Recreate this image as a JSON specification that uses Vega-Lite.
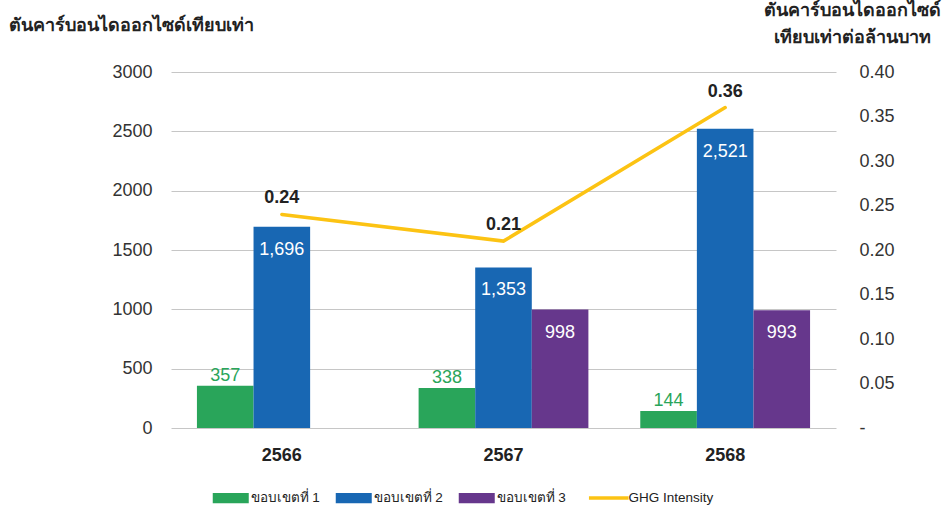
{
  "$schema": "https://vega.github.io/schema/vega-lite/v6.json",
  "width": 665,
  "height": 356,
  "autosize": {"type": "none"},
  "padding": {"left": 171, "top": 72, "right": 106, "bottom": 83},
  "background": "#ffffff",
  "config": {
    "view": {"stroke": null},
    "font": "Liberation Sans",
    "axis": {"labelFont": "Liberation Sans", "titleFont": "Liberation Sans"},
    "legend": {"labelFont": "Liberation Sans"}
  },
  "datasets": {
    "emissions": [
      {"year": "2566", "scope": "ขอบเขตที่ 1", "value": 357},
      {"year": "2566", "scope": "ขอบเขตที่ 2", "value": 1696},
      {"year": "2567", "scope": "ขอบเขตที่ 1", "value": 338},
      {"year": "2567", "scope": "ขอบเขตที่ 2", "value": 1353},
      {"year": "2567", "scope": "ขอบเขตที่ 3", "value": 998},
      {"year": "2568", "scope": "ขอบเขตที่ 1", "value": 144},
      {"year": "2568", "scope": "ขอบเขตที่ 2", "value": 2521},
      {"year": "2568", "scope": "ขอบเขตที่ 3", "value": 993}
    ],
    "intensity": [
      {"year": "2566", "series": "GHG Intensity", "intensity": 0.24},
      {"year": "2567", "series": "GHG Intensity", "intensity": 0.21},
      {"year": "2568", "series": "GHG Intensity", "intensity": 0.36}
    ]
  },
  "layer": [
    {
      "data": {"name": "emissions"},
      "encoding": {
        "x": {
          "field": "year", "type": "nominal", "sort": ["2566", "2567", "2568"],
          "scale": {"paddingInner": 0.234, "paddingOuter": 0.117},
          "axis": {
            "title": null, "domain": false, "ticks": false, "labelAngle": 0,
            "labelFontSize": 18, "labelFontWeight": "bold", "labelColor": "#222222",
            "labelPadding": 18
          }
        },
        "xOffset": {
          "field": "scope", "type": "nominal",
          "scale": {"domain": ["ขอบเขตที่ 1", "ขอบเขตที่ 2", "ขอบเขตที่ 3"], "paddingInner": 0, "paddingOuter": 0}
        },
        "y": {
          "field": "value", "type": "quantitative",
          "scale": {"domain": [0, 3000], "nice": false},
          "axis": {
            "orient": "left",
            "values": [0, 500, 1000, 1500, 2000, 2500, 3000],
            "format": "d",
            "domain": false, "ticks": false,
            "grid": true, "gridColor": "#c6c6c6", "gridWidth": 1,
            "labelFontSize": 18, "labelColor": "#333333", "labelPadding": 19,
            "title": "ตันคาร์บอนไดออกไซด์เทียบเท่า",
            "titleAngle": 0, "titleAlign": "left", "titleBaseline": "alphabetic",
            "titleX": -163, "titleY": -42,
            "titleFontSize": 18, "titleFontWeight": "bold", "titleColor": "#222222"
          }
        }
      },
      "layer": [
        {
          "mark": {"type": "bar"},
          "encoding": {
            "color": {
              "field": "scope", "type": "nominal",
              "scale": {
                "domain": ["ขอบเขตที่ 1", "ขอบเขตที่ 2", "ขอบเขตที่ 3", "GHG Intensity"],
                "range": ["#29a55a", "#1867b3", "#66378c", "#fcc313"]
              },
              "legend": {
                "orient": "none", "legendX": 53, "legendY": 419,
                "direction": "horizontal", "title": null,
                "symbolType": "M-1,-0.28L1,-0.28L1,0.28L-1,0.28Z",
                "symbolSize": 1296,
                "labelFontSize": 13.5, "labelColor": "#222222",
                "labelOffset": 13, "columnPadding": 15, "labelLimit": 200,
                "encode": {
                  "symbols": {
                    "update": {
                      "shape": {"signal": "datum.value === 'GHG Intensity' ? 'M-1.1,0L1.1,0' : 'M-1,-0.28L1,-0.28L1,0.28L-1,0.28Z'"},
                      "fill": {"signal": "datum.value === 'GHG Intensity' ? 'transparent' : scale('color', datum.value)"},
                      "stroke": {"signal": "scale('color', datum.value)"},
                      "strokeWidth": {"signal": "datum.value === 'GHG Intensity' ? 3.5 : 0"},
                      "opacity": {"value": 1}
                    }
                  }
                }
              }
            }
          }
        },
        {
          "transform": [{"filter": "datum.scope === 'ขอบเขตที่ 1'"}],
          "mark": {"type": "text", "baseline": "bottom", "dy": -1, "fontSize": 18, "color": "#29a55a"},
          "encoding": {"text": {"field": "value", "type": "quantitative", "format": ","}}
        },
        {
          "transform": [{"filter": "datum.scope !== 'ขอบเขตที่ 1'"}],
          "mark": {"type": "text", "baseline": "middle", "dy": 23, "fontSize": 18, "color": "#ffffff"},
          "encoding": {"text": {"field": "value", "type": "quantitative", "format": ","}}
        }
      ]
    },
    {
      "data": {"name": "intensity"},
      "encoding": {
        "x": {"field": "year", "type": "nominal", "sort": ["2566", "2567", "2568"]},
        "y": {
          "field": "intensity", "type": "quantitative",
          "scale": {"domain": [0, 0.4], "nice": false},
          "axis": {
            "orient": "right",
            "values": [0, 0.05, 0.1, 0.15, 0.2, 0.25, 0.3, 0.35, 0.4],
            "labelExpr": "datum.value === 0 ? '-' : format(datum.value, '.2f')",
            "domain": false, "ticks": false, "grid": false,
            "labelFontSize": 18, "labelColor": "#333333", "labelPadding": 23,
            "title": ["ตันคาร์บอนไดออกไซด์", "เทียบเท่าต่อล้านบาท"],
            "titleAngle": 0, "titleAlign": "center", "titleBaseline": "alphabetic",
            "titleX": 16, "titleY": -57, "titleLineHeight": 27,
            "titleFontSize": 18, "titleFontWeight": "bold", "titleColor": "#222222"
          }
        }
      },
      "layer": [
        {
          "mark": {"type": "line", "strokeWidth": 3.5, "strokeCap": "round"},
          "encoding": {"color": {"field": "series", "type": "nominal"}}
        },
        {
          "mark": {"type": "text", "baseline": "middle", "dy": -16, "fontSize": 18, "fontWeight": "bold", "color": "#222222"},
          "encoding": {"text": {"field": "intensity", "type": "quantitative", "format": ".2f"}}
        }
      ]
    }
  ],
  "resolve": {"scale": {"y": "independent"}}
}
